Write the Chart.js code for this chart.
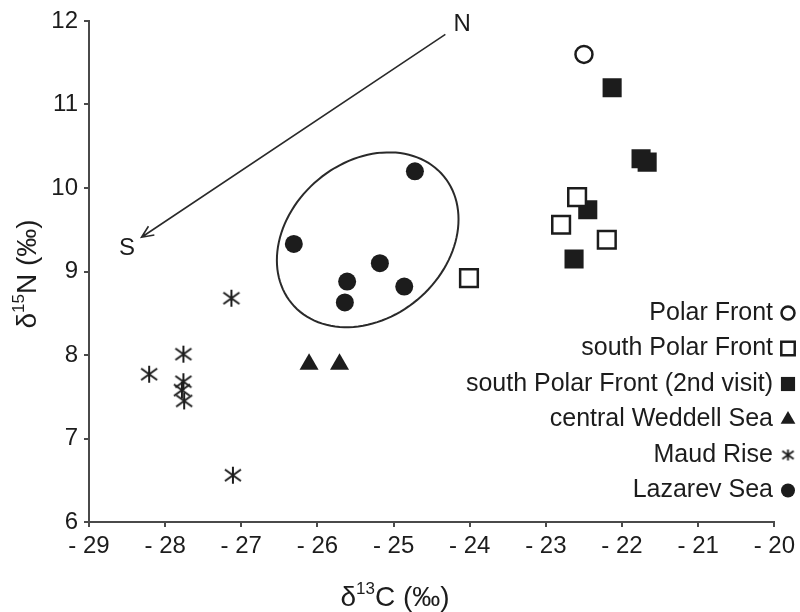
<!DOCTYPE html>
<html lang="en">
<head>
<meta charset="UTF-8">
<title>δ13C vs δ15N</title>
<script src="https://cdn.jsdelivr.net/npm/chart.js"></script>
<style>
    body { margin: 0; background: #fff; }
    #wrap { width: 800px; height: 612px; }
</style>
</head>
<body>
<div id="wrap"><canvas id="chart" width="800" height="612"></canvas></div>

<script>
    // station groups: d13C (x) and d15N (y)
    const polarFrontX = [-22.5];
    const polarFrontY = [11.6];

    const southPFX = [-22.59, -22.80, -22.20, -24.01];
    const southPFY = [9.89, 9.56, 9.38, 8.92];

    const southPF2X = [-22.13, -21.75, -21.67, -22.45, -22.63];
    const southPF2Y = [11.20, 10.35, 10.31, 9.74, 9.15];

    const weddellX = [-26.11, -25.71];
    const weddellY = [7.89, 7.89];

    const maudX = [-27.13, -27.76, -28.21, -27.76, -27.78, -27.75, -27.11];
    const maudY = [8.68, 8.01, 7.77, 7.68, 7.58, 7.45, 6.56];

    const lazarevX = [-24.72, -26.31, -25.18, -25.61, -25.64, -24.86];
    const lazarevY = [10.20, 9.33, 9.10, 8.88, 8.63, 8.82];

    const xTicks = [-29, -28, -27, -26, -25, -24, -23, -22, -21, -20];
    const yTicks = [6, 7, 8, 9, 10, 11, 12];

    // N -> S arrow and the ring around the Lazarev Sea group (data units)
    const arrowFrom = [-24.32, 11.84];
    const arrowTo = [-28.31, 9.41];
    const labelN = [-24.10, 11.96];
    const labelS = [-28.50, 9.28];
    const ringCenter = [-25.34, 9.38];
    const ringU = [1.0, 0.76];
    const ringV = [0.65, -0.72];

    const FONT = '"Liberation Sans", Arial, sans-serif';
    const INK = '#1c1c1c';

    function pts(xs, ys) {
        return xs.map((x, i) => ({ x: x, y: ys[i] }));
    }

    // six-armed asterisk marker (X plus a vertical stroke)
    function asterisk(w, h, lw) {
        const c = document.createElement('canvas');
        c.width = w; c.height = h;
        const g = c.getContext('2d');
        const p = lw;
        g.strokeStyle = INK;
        g.lineWidth = lw;
        g.beginPath();
        g.moveTo(p, h * 0.2); g.lineTo(w - p, h * 0.8);
        g.moveTo(p, h * 0.8); g.lineTo(w - p, h * 0.2);
        g.moveTo(w / 2, 1); g.lineTo(w / 2, h - 1);
        g.stroke();
        return c;
    }

    const star = asterisk(20, 19, 2);
    const starSmall = asterisk(15, 13, 1.8);

    const datasets = [
        { label: 'Polar Front', data: pts(polarFrontX, polarFrontY), pointStyle: 'circle', pointRadius: 8.5,
          backgroundColor: '#fff', borderColor: INK, borderWidth: 2.5, legendRadius: 6.5 },
        { label: 'south Polar Front', data: pts(southPFX, southPFY), pointStyle: 'rect', pointRadius: 12.5,
          backgroundColor: '#fff', borderColor: INK, borderWidth: 2.5, legendRadius: 9.5 },
        { label: 'south Polar Front (2nd visit)', data: pts(southPF2X, southPF2Y), pointStyle: 'rect', pointRadius: 13.5,
          backgroundColor: INK, borderColor: INK, borderWidth: 0, legendRadius: 10 },
        { label: 'central Weddell Sea', data: pts(weddellX, weddellY), pointStyle: 'triangle', pointRadius: 11,
          backgroundColor: INK, borderColor: INK, borderWidth: 0, legendRadius: 8.5 },
        { label: 'Maud Rise', data: pts(maudX, maudY), pointStyle: star, pointRadius: 10,
          backgroundColor: INK, borderColor: INK, borderWidth: 0, legendStyle: starSmall },
        { label: 'Lazarev Sea', data: pts(lazarevX, lazarevY), pointStyle: 'circle', pointRadius: 9,
          backgroundColor: INK, borderColor: INK, borderWidth: 0, legendRadius: 7 }
    ];

    function drawSup(ctx, pre, sup, post, size) {
        const big = size + 'px ' + FONT, small = Math.round(size * 0.6) + 'px ' + FONT;
        ctx.font = big; const w1 = ctx.measureText(pre).width; const w3 = ctx.measureText(post).width;
        ctx.font = small; const w2 = ctx.measureText(sup).width;
        let x = -(w1 + w2 + w3) / 2;
        ctx.textBaseline = 'middle'; ctx.textAlign = 'left';
        ctx.font = big; ctx.fillText(pre, x, 0); x += w1;
        ctx.font = small; ctx.fillText(sup, x, -size * 0.3); x += w2;
        ctx.font = big; ctx.fillText(post, x, 0);
    }

    const extras = {
        id: 'extras',
        beforeDatasetsDraw(chart) {
            const ctx = chart.ctx, sx = chart.scales.x, sy = chart.scales.y;
            const px = v => sx.getPixelForValue(v), py = v => sy.getPixelForValue(v);
            ctx.save();
            ctx.strokeStyle = '#2a2a2a';

            // ring
            ctx.lineWidth = 2;
            ctx.beginPath();
            for (let i = 0; i <= 120; i++) {
                const t = i / 120 * Math.PI * 2;
                const x = ringCenter[0] + ringU[0] * Math.cos(t) + ringV[0] * Math.sin(t);
                const y = ringCenter[1] + ringU[1] * Math.cos(t) + ringV[1] * Math.sin(t);
                if (i === 0) ctx.moveTo(px(x), py(y)); else ctx.lineTo(px(x), py(y));
            }
            ctx.closePath();
            ctx.stroke();

            // arrow N -> S
            const x0 = px(arrowFrom[0]), y0 = py(arrowFrom[1]);
            const x1 = px(arrowTo[0]), y1 = py(arrowTo[1]);
            const ang = Math.atan2(y1 - y0, x1 - x0);
            ctx.lineWidth = 1.6;
            ctx.beginPath();
            ctx.moveTo(x0, y0); ctx.lineTo(x1, y1);
            ctx.moveTo(x1 - 13 * Math.cos(ang - 0.42), y1 - 13 * Math.sin(ang - 0.42));
            ctx.lineTo(x1, y1);
            ctx.lineTo(x1 - 13 * Math.cos(ang + 0.42), y1 - 13 * Math.sin(ang + 0.42));
            ctx.stroke();

            ctx.fillStyle = INK;
            ctx.font = '24px ' + FONT;
            ctx.textAlign = 'center'; ctx.textBaseline = 'middle';
            ctx.fillText('N', px(labelN[0]), py(labelN[1]));
            ctx.fillText('S', px(labelS[0]), py(labelS[1]));
            ctx.restore();
        },
        afterDraw(chart) {
            const ctx = chart.ctx;
            ctx.save();
            ctx.fillStyle = INK;

            // axis titles
            ctx.save();
            ctx.translate(395, 598);
            drawSup(ctx, 'δ', '13', 'C (‰)', 28);
            ctx.restore();
            ctx.save();
            ctx.translate(28, 274);
            ctx.rotate(-Math.PI / 2);
            drawSup(ctx, 'δ', '15', 'N (‰)', 28);
            ctx.restore();

            // legend, text right-aligned with the marker after it
            ctx.font = '25px ' + FONT;
            ctx.textAlign = 'right'; ctx.textBaseline = 'middle';
            chart.data.datasets.forEach((ds, i) => {
                const y = 313 + i * 35.5;
                ctx.fillStyle = INK;
                ctx.fillText(ds.label, 773, y);
                ctx.fillStyle = ds.backgroundColor;
                ctx.strokeStyle = ds.borderColor;
                ctx.lineWidth = ds.borderWidth;
                Chart.helpers.drawPoint(ctx, {
                    pointStyle: ds.legendStyle || ds.pointStyle,
                    radius: ds.legendRadius || 7,
                    rotation: 0,
                    borderWidth: ds.borderWidth
                }, 788, y);
            });
            ctx.restore();
        }
    };

    const axisColor = '#4a4a4a';

    new Chart(document.getElementById('chart'), {
        type: 'scatter',
        data: { datasets: datasets },
        options: {
            responsive: false,
            animation: false,
            events: [],
            layout: { padding: { top: 21, right: 24, left: 0, bottom: 0 } },
            plugins: { legend: { display: false }, tooltip: { enabled: false } },
            scales: {
                x: {
                    min: xTicks[0], max: xTicks[xTicks.length - 1],
                    afterBuildTicks: s => { s.ticks = xTicks.map(v => ({ value: v })); },
                    afterFit: s => { s.height = 90; },
                    grid: { drawOnChartArea: false, tickLength: 5, color: axisColor, lineWidth: 2 },
                    border: { color: axisColor, width: 2 },
                    ticks: {
                        padding: 5, color: INK, font: { family: FONT, size: 24 },
                        callback: v => (v < 0 ? '- ' + Math.abs(v) : String(v))
                    }
                },
                y: {
                    min: yTicks[0], max: yTicks[yTicks.length - 1],
                    afterBuildTicks: s => { s.ticks = yTicks.map(v => ({ value: v })); },
                    afterFit: s => { s.width = 89; },
                    grid: { drawOnChartArea: false, tickLength: 5, color: axisColor, lineWidth: 2 },
                    border: { color: axisColor, width: 2 },
                    ticks: { padding: 6, color: INK, font: { family: FONT, size: 24 } }
                }
            }
        },
        plugins: [extras]
    });
</script>
</body>
</html>
